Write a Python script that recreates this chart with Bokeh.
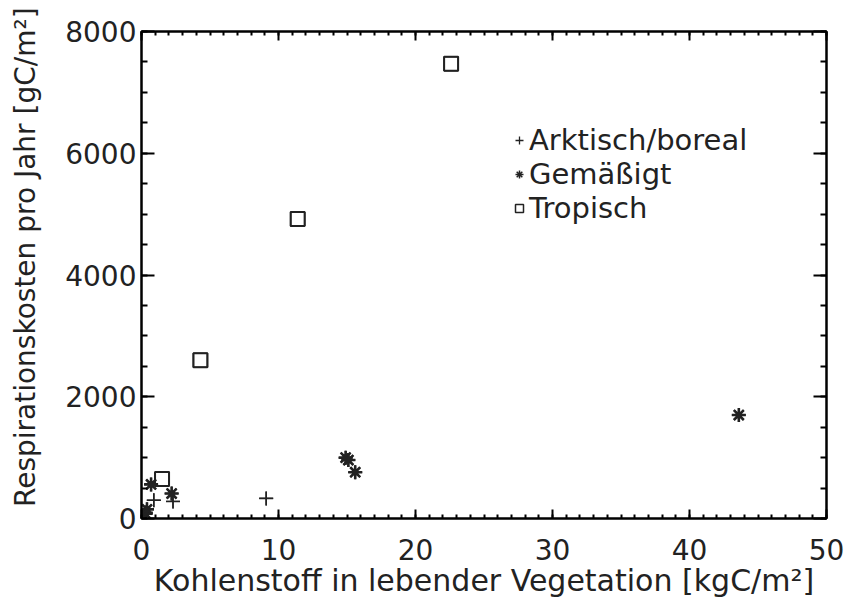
from bokeh.plotting import figure
from bokeh.models import (LinearAxis, Range1d, SingleIntervalTicker, Legend, LegendItem,
                          CustomJSTickFormatter)
from bokeh.embed import file_html
from bokeh.resources import INLINE

# Vegetation carbon [kgC/m2] vs. annual respiration cost [gC/m2]
arktisch_x = [0.3, 0.9, 2.3, 9.1]
arktisch_y = [100, 300, 280, 330]

gemaessigt_x = [0.3, 0.4, 0.7, 2.2, 14.9, 15.1, 15.6, 43.6]
gemaessigt_y = [80, 150, 560, 410, 1000, 960, 760, 1700]

tropisch_x = [1.5, 4.3, 11.4, 22.6]
tropisch_y = [650, 2600, 4920, 7470]

FONT = "DejaVu Sans"
TEXT = "#222222"

p = figure(width=844, height=600, output_backend="svg", toolbar_location=None,
           x_range=Range1d(0, 50), y_range=Range1d(0, 8000),
           x_axis_type=None, y_axis_type=None)
p.frame_width = 685
p.frame_height = 487
p.min_border_left = 141
p.min_border_right = 18
p.min_border_top = 31
p.min_border_bottom = 82
p.grid.visible = False
p.outline_line_color = "black"
p.outline_line_width = 2
p.background_fill_color = "white"
p.border_fill_color = "white"


def style_axis(ax, major, minor_count, tin, tmin, labels=True):
    ax.ticker = SingleIntervalTicker(interval=major, num_minor_ticks=minor_count)
    ax.axis_line_color = "black"
    ax.axis_line_width = 2
    ax.major_tick_in = tin
    ax.major_tick_out = 0
    ax.minor_tick_in = tmin
    ax.minor_tick_out = 0
    ax.major_tick_line_width = 2
    ax.minor_tick_line_width = 2
    ax.major_label_text_font = FONT
    ax.major_label_text_font_size = "28px"
    ax.major_label_text_color = TEXT
    ax.axis_label_text_font = FONT
    ax.axis_label_text_font_style = "normal"
    ax.axis_label_text_color = TEXT
    if not labels:
        ax.formatter = CustomJSTickFormatter(code="return ''")
        ax.major_label_text_font_size = "1px"


xb = LinearAxis(axis_label="Kohlenstoff in lebender Vegetation [kgC/m²]")
style_axis(xb, 10, 10, 9, 4)
xb.axis_label_text_font_size = "30px"
xb.major_label_standoff = 20
xb.axis_label_standoff = 0
p.add_layout(xb, "below")

# leading no-break spaces lift the rotated title slightly above the centre
yl = LinearAxis(axis_label="\u00a0" * 4 + "Respirationskosten pro Jahr [gC/m²]")
style_axis(yl, 2000, 4, 13, 6)
yl.axis_label_text_font_size = "28px"
yl.major_label_standoff = 5
yl.axis_label_standoff = 20
p.add_layout(yl, "left")

xt = LinearAxis()
style_axis(xt, 10, 10, 9, 4, labels=False)
p.add_layout(xt, "above")

yr = LinearAxis()
style_axis(yr, 2000, 4, 13, 6, labels=False)
p.add_layout(yr, "right")

r_ark = p.scatter(arktisch_x, arktisch_y, marker="cross", size=14,
                  line_color=TEXT, line_width=1.6)
r_gem = p.scatter(gemaessigt_x, gemaessigt_y, marker="asterisk", size=14,
                  line_color=TEXT, line_width=2.6)
r_tro = p.scatter(tropisch_x, tropisch_y, marker="square", size=14,
                  line_color=TEXT, line_width=2, fill_color=None)

# thin-lined overlays of the same points, used as the legend keys
k_ark = p.scatter(arktisch_x, arktisch_y, marker="cross", size=14,
                  line_color=TEXT, line_width=1.3)
k_gem = p.scatter(gemaessigt_x, gemaessigt_y, marker="asterisk", size=14,
                  line_color=TEXT, line_width=1.5)
k_tro = p.scatter(tropisch_x, tropisch_y, marker="square", size=14,
                  line_color=TEXT, line_width=1.5, fill_color=None)

legend = Legend(items=[
    LegendItem(label="Arktisch/boreal", renderers=[k_ark]),
    LegendItem(label="Gemäßigt", renderers=[k_gem]),
    LegendItem(label="Tropisch", renderers=[k_tro]),
], location=(368, 293))
legend.background_fill_alpha = 0
legend.border_line_alpha = 0
legend.label_text_font = FONT
legend.label_text_font_size = "29px"
legend.label_text_color = TEXT
legend.glyph_width = 20
legend.glyph_height = 26
legend.label_standoff = 0
legend.label_height = 26
legend.spacing = -2
legend.padding = 0
legend.margin = 0
p.add_layout(legend, "center")

open("out.html", "w").write(file_html(p, INLINE))
